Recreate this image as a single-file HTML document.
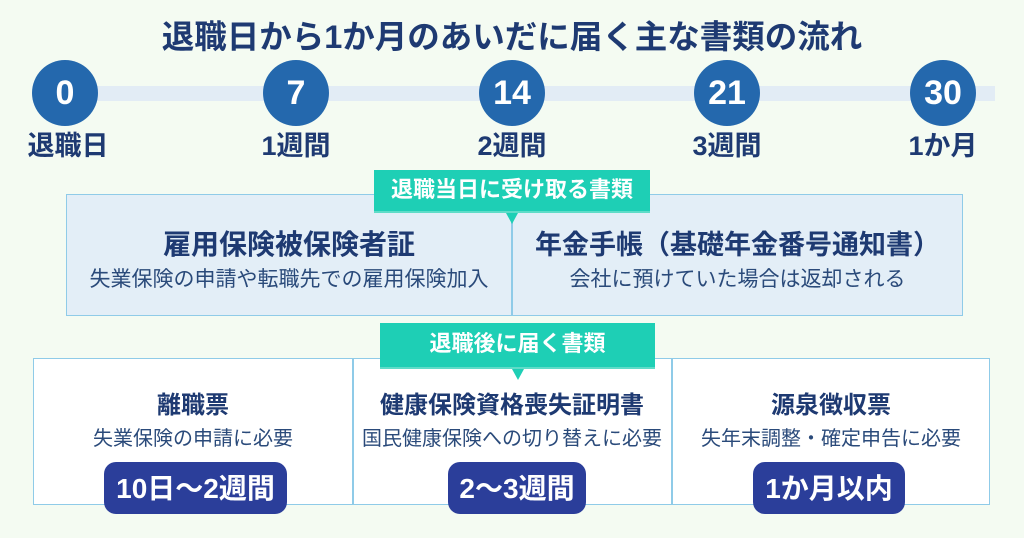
<!DOCTYPE html>
<html><head><meta charset="utf-8"><style>
*{margin:0;padding:0;box-sizing:border-box}
body{width:1024px;height:538px;background:#f4fbf2;position:relative;overflow:hidden;font-family:"Liberation Sans","Noto Sans CJK JP",sans-serif;color:#1e3a72}
.a{position:absolute}
.c{text-align:center;white-space:nowrap}
.circ{position:absolute;width:66px;height:66px;border-radius:50%;background:#2468ad;color:#fff;font-weight:bold;font-size:34px;line-height:66px;text-align:center;top:60px}
.lab{position:absolute;top:129px;width:160px;text-align:center;font-weight:bold;font-size:27px;line-height:34px;color:#1e3a72}
.tab{position:absolute;background:#1ecfb5;color:#fff;font-weight:bold;font-size:22px;text-align:center;border-bottom:2px solid #5fdcc8;white-space:nowrap}
.ptr{position:absolute;width:0;height:0;border-left:6px solid transparent;border-right:6px solid transparent;border-top:11px solid #1ecfb5}
.pill{position:absolute;background:#2b3e9a;color:#fff;font-weight:bold;font-size:28px;border-radius:12px;text-align:center;height:52px;line-height:54px;top:462px;white-space:nowrap}
.t{position:absolute;font-weight:bold;text-align:center;white-space:nowrap}
.s{position:absolute;font-size:20px;line-height:26px;text-align:center;white-space:nowrap;color:#2a4a7a}
</style></head><body>
<div class="a c" style="left:0;width:1024px;top:17px;font-size:32.5px;line-height:40px;font-weight:bold;color:#1e3a72">退職日から1か月のあいだに届く主な書類の流れ</div>
<div class="a" style="left:65px;top:86px;width:930px;height:15px;background:#e2ecf5"></div>
<div class="circ" style="left:32px">0</div>
<div class="circ" style="left:263px">7</div>
<div class="circ" style="left:479px">14</div>
<div class="circ" style="left:694px">21</div>
<div class="circ" style="left:910px">30</div>
<div class="lab" style="left:-12px">退職日</div>
<div class="lab" style="left:216px">1週間</div>
<div class="lab" style="left:432px">2週間</div>
<div class="lab" style="left:647px">3週間</div>
<div class="lab" style="left:863px">1か月</div>

<div class="a" style="left:66px;top:194px;width:897px;height:122px;background:#e3eef7;border:1.5px solid #8fcbe8"></div>
<div class="a" style="left:511px;top:194px;width:1.5px;height:122px;background:#8fcbe8"></div>
<div class="t" style="left:66px;width:446px;top:227px;font-size:28px;line-height:36px">雇用保険被保険者証</div>
<div class="s" style="left:66px;width:446px;top:267px;font-size:21px">失業保険の申請や転職先での雇用保険加入</div>
<div class="t" style="left:512px;width:451px;top:227px;font-size:27px;line-height:36px">年金手帳（基礎年金番号通知書）</div>
<div class="s" style="left:512px;width:451px;top:267px;font-size:21px">会社に預けていた場合は返却される</div>
<div class="tab" style="left:374px;top:170px;width:276px;height:43px;line-height:40px">退職当日に受け取る書類</div>
<div class="ptr" style="left:506px;top:213px"></div>

<div class="a" style="left:33px;top:358px;width:957px;height:147px;background:#fff;border:1.5px solid #8fcbe8"></div>
<div class="a" style="left:352px;top:358px;width:1.5px;height:147px;background:#8fcbe8"></div>
<div class="a" style="left:671px;top:358px;width:1.5px;height:147px;background:#8fcbe8"></div>
<div class="tab" style="left:380px;top:323px;width:275px;height:46px;line-height:42px">退職後に届く書類</div>
<div class="ptr" style="left:512px;top:369px"></div>
<div class="t" style="left:33px;width:320px;top:391px;font-size:24px;line-height:30px">離職票</div>
<div class="t" style="left:352px;width:320px;top:391px;font-size:24px;line-height:30px">健康保険資格喪失証明書</div>
<div class="t" style="left:671px;width:320px;top:391px;font-size:24px;line-height:30px">源泉徴収票</div>
<div class="s" style="left:33px;width:320px;top:426px">失業保険の申請に必要</div>
<div class="s" style="left:352px;width:320px;top:426px">国民健康保険への切り替えに必要</div>
<div class="s" style="left:671px;width:320px;top:426px">失年末調整・確定申告に必要</div>
<div class="pill" style="left:104px;width:183px">10日～2週間</div>
<div class="pill" style="left:448px;width:138px">2～3週間</div>
<div class="pill" style="left:753px;width:152px">1か月以内</div>
</body></html>
